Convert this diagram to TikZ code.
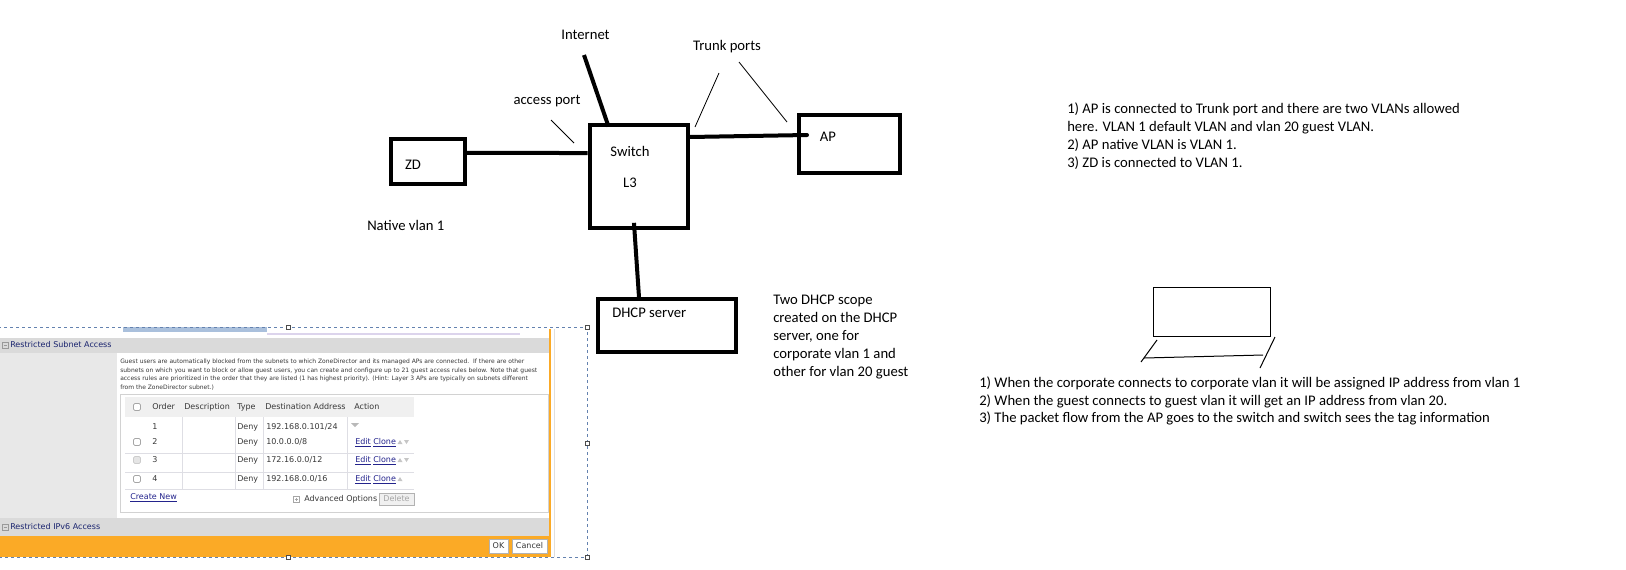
\documentclass[tikz,border=0pt]{standalone}
\usepackage{fontspec}
\setmainfont{Carlito}
\newfontfamily\uifont{DejaVu Sans}
\usetikzlibrary{calc}
\definecolor{dashc}{RGB}{100,130,175}
\definecolor{orng}{RGB}{251,170,38}
\definecolor{band}{RGB}{218,218,218}
\definecolor{leftp}{RGB}{232,232,232}
\definecolor{navy}{RGB}{25,35,110}
\definecolor{linkc}{RGB}{35,35,140}
\definecolor{hdrbg}{RGB}{240,240,240}
\definecolor{gridc}{RGB}{222,222,228}
\definecolor{txtc}{RGB}{55,55,55}
\definecolor{barblue}{RGB}{170,192,220}
\definecolor{lav}{RGB}{220,212,236}
\begin{document}
\begin{tikzpicture}[x=0.75pt,y=-0.75pt,
  box/.style={draw, line width=3pt, inner sep=0pt},
  link/.style={line width=3pt},
  note/.style={line width=0.6pt},
  txt/.style={font=\fontsize{11}{13.5}\selectfont, inner sep=0pt, text height=7.5pt, text depth=2pt},
  ltxt/.style={txt, anchor=west},
  ui/.style={font=\fontsize{6}{7}\selectfont\uifont, inner sep=0pt, anchor=west, text height=4.4pt, text depth=1.2pt, text=txtc},
  tiny/.style={font=\fontsize{4.5}{5}\selectfont\uifont, inner sep=0pt, anchor=west, text height=3.3pt, text depth=0.9pt, text=txtc},
  lnk/.style={ui, text=linkc},
  hdl/.style={fill=white, draw=black!70, line width=0.5pt},
  cbox/.style={draw=gray!70, fill=white, rounded corners=1pt, line width=0.5pt},
  btn/.style={draw=gray!60, fill=hdrbg, line width=0.5pt}
]
\useasboundingbox (0,0) rectangle (1626,569);

% ---------------- network diagram ----------------
\node[box, minimum width=55.5pt, minimum height=33.75pt] (zd) at (428,161.5) {};
\node[box, minimum width=73.5pt, minimum height=77.25pt] (sw) at (638.5,176) {};
\node[box, minimum width=75.75pt, minimum height=43.5pt] (ap) at (849.5,144) {};
\node[box, line width=2.6pt, minimum width=103.5pt, minimum height=39.75pt] (dh) at (667,325.5) {};

\node[txt] (zdt) at (413,166) {ZD};
\node[txt] (swt) at (630,153) {Switch};
\node[txt] (l3t) at (630,184) {L3};
\node[txt] (apt) at (828,138) {AP};
\node[ltxt] (dht) at (612,314) {DHCP server};

\node[txt] (inet) at (585.5,36) {Internet};
\node[txt] (acc) at (547,101) {access port};
\node[txt] (trk) at (727,47) {Trunk ports};
\node[ltxt] (nat) at (367,227) {Native vlan 1};

\coordinate (inetend) at (584,55);
\draw[link] (inetend) -- ([xshift=-22.5pt,yshift=-3pt]sw.north);
\draw[link] ([yshift=6.4pt]zd.east) -- ([yshift=17.25pt]sw.west);
\draw[link, line cap=round] ([yshift=29.25pt]sw.east) -- ([xshift=7.5pt,yshift=6.75pt]ap.west);
\draw[link] ([xshift=-3.4pt,yshift=5pt]sw.south) -- ([xshift=-21pt]dh.north);

\coordinate (ac1) at (551,120); \coordinate (ac2) at (574,143);
\draw[note] (ac1) -- (ac2);
\coordinate (tr1) at (719,73); \coordinate (tr2) at (695,127);
\coordinate (tr3) at (739,62); \coordinate (tr4) at (787,122);
\draw[note] (tr1) -- (tr2);
\draw[note] (tr3) -- (tr4);

% DHCP note
\foreach \t [count=\i from 0] in {Two DHCP scope, created on the DHCP, {server, one for}, corporate vlan 1 and, other for vlan 20 guest}
  \node[ltxt] (dn\i) at (773,301+18*\i) {\t};

% right notes
\node[ltxt] (r1) at (1067,110) {1) AP is connected to Trunk port and there are two VLANs allowed};
\node[ltxt] (r2) at (1067,128) {here. VLAN 1 default VLAN and vlan 20 guest VLAN.};
\node[ltxt] (r3) at (1067,146) {2) AP native VLAN is VLAN 1.};
\node[ltxt] (r4) at (1067,164) {3) ZD is connected to VLAN 1.};

% laptop
\node[draw, line width=0.75pt, minimum width=87.75pt, minimum height=36.75pt, inner sep=0pt] (lap) at (1211.5,311.5) {};
\coordinate (lb1) at (1157,340); \coordinate (lb2) at (1141,362);
\coordinate (lb3) at (1144,358); \coordinate (lb4) at (1263,355);
\coordinate (lb5) at (1275,337); \coordinate (lb6) at (1260,368);
\draw[line width=0.75pt] (lb1) -- (lb2);
\draw[line width=0.75pt] (lb3) -- (lb4);
\draw[line width=0.75pt] (lb5) -- (lb6);

\node[ltxt] (b1) at (979,384) {1) When the corporate connects to corporate vlan it will be assigned IP address from vlan 1};
\node[ltxt] (b2) at (979,401.5) {2) When the guest connects to guest vlan it will get an IP address from vlan 20.};
\node[ltxt] (b3) at (979,419) {3) The packet flow from the AP goes to the switch and switch sees the tag information};

% ---------------- screenshot ----------------
\fill[band] (0,338) rectangle (550,353);
\fill[leftp] (0,353) rectangle (117,518);
\fill[band] (0,518) rectangle (550,536);
\fill[orng] (0,536) rectangle (550,557);
\draw[orng, line width=0.8pt] (550,329) -- (550,557);
\draw[gray!25, line width=0.5pt] (554,329) -- (554,557);
\fill[barblue] (123,327) rectangle (267,332);
\draw[lav, line width=1pt] (267,334) -- (520,334);

% collapse icons and headers
\draw[gray!80, line width=0.4pt] (2,342) rectangle (8,348);
\draw[gray!80, line width=0.4pt] (3.5,345) -- (6.5,345);
\node[ui, text=navy] (h1) at (10,345) {Restricted Subnet Access};
\draw[gray!80, line width=0.4pt] (2,524) rectangle (8,530);
\draw[gray!80, line width=0.4pt] (3.5,527) -- (6.5,527);
\node[ui, text=navy] (h2) at (10,527) {Restricted IPv6 Access};

% description
\node[tiny] (d1) at (120,362) {Guest users are automatically blocked from the subnets to which ZoneDirector and its managed APs are connected.\ \ If there are other};
\node[tiny] (d2) at (120,370.5) {subnets on which you want to block or allow guest users, you can create and configure up to 21 guest access rules below. Note that guest};
\node[tiny] (d3) at (120,379) {access rules are prioritized in the order that they are listed (1 has highest priority). (Hint: Layer 3 APs are typically on subnets different};
\node[tiny] (d4) at (120,388) {from the ZoneDirector subnet.)};

% table container
\draw[gray!35, line width=0.5pt] (120,394) rectangle (548,512);
\fill[hdrbg] (125,397) rectangle (414,417);
\foreach \yy in {453,472,489} \draw[gridc, line width=0.5pt] (125,\yy) -- (414,\yy);
\foreach \xx in {182,235,263,347} \draw[gridc, line width=0.5pt] (\xx,417) -- (\xx,489);

% header row
\draw[cbox] (133.5,403.5) rectangle (140.5,410.5);
\node[ui] (c1) at (152,407) {Order};
\node[ui] (c2) at (184,407) {Description};
\node[ui] (c3) at (237,407) {Type};
\node[ui] (c4) at (265,407) {Destination Address};
\node[ui] (c5) at (354,407) {Action};

% rows
\node[ui] (n1) at (152,427) {1};
\node[ui] (t1) at (237,427) {Deny};
\node[ui] (a1) at (266,427) {192.168.0.101/24};
\fill[gray!55] (351,423) -- (359,423) -- (355,427) -- cycle;

\draw[cbox] (133.5,438.5) rectangle (140.5,445.5);
\node[ui] (n2) at (152,442) {2};
\node[ui] (t2) at (237,442) {Deny};
\node[ui] (a2) at (266,442) {10.0.0.0/8};
\node[lnk] (e2) at (355,442) {\underline{Edit}};
\node[lnk] (k2) at (373,442) {\underline{Clone}};
\fill[gray!45] (397.5,444) -- (402.5,444) -- (400,440) -- cycle;
\fill[gray!45] (404,440) -- (409,440) -- (406.5,444) -- cycle;

\draw[cbox, fill=gray!20, draw=gray!40] (133.5,456.5) rectangle (140.5,463.5);
\node[ui] (n3) at (152,460) {3};
\node[ui] (t3) at (237,460) {Deny};
\node[ui] (a3) at (266,460) {172.16.0.0/12};
\node[lnk] (e3) at (355,460) {\underline{Edit}};
\node[lnk] (k3) at (373,460) {\underline{Clone}};
\fill[gray!45] (397.5,462) -- (402.5,462) -- (400,458) -- cycle;
\fill[gray!45] (404,458) -- (409,458) -- (406.5,462) -- cycle;

\draw[cbox] (133.5,475.5) rectangle (140.5,482.5);
\node[ui] (n4) at (152,479) {4};
\node[ui] (t4) at (237,479) {Deny};
\node[ui] (a4) at (266,479) {192.168.0.0/16};
\node[lnk] (e4) at (355,479) {\underline{Edit}};
\node[lnk] (k4) at (373,479) {\underline{Clone}};
\fill[gray!45] (397.5,481) -- (402.5,481) -- (400,477) -- cycle;

\node[lnk] (cn) at (130,497) {\underline{Create New}};
\draw[gray!70, line width=0.4pt] (293,496) rectangle (299,502);
\draw[gray!70, line width=0.4pt] (294.5,499) -- (297.5,499) (296,497.5) -- (296,500.5);
\node[ui] (adv) at (304,499) {Advanced Options};
\node[btn, minimum width=26.25pt, minimum height=9pt, inner sep=0pt] (del) at (396.5,499) {};
\node[ui, anchor=center, text=gray!70] (delt) at (del) {Delete};

% OK / Cancel
\node[btn, fill=white, minimum width=14.25pt, minimum height=10.5pt, inner sep=0pt] (ok) at (498.5,546) {};
\node[ui, anchor=center] (okt) at (ok) {OK};
\node[btn, fill=white, minimum width=26.25pt, minimum height=10.5pt, inner sep=0pt] (cancel) at (529.5,546) {};
\node[ui, anchor=center] (cat) at (cancel) {Cancel};

% selection frame
\draw[dashc, line width=0.6pt, dash pattern=on 2.25pt off 2.25pt] (-2,327) -- (587,327) -- (587,557) -- (-2,557);
\foreach \p in {(587,327),(587,443),(587,557),(288,327),(288,557)}
  \draw[hdl] \p ++(-2,-2) rectangle ++(4,4);
\end{tikzpicture}
\end{document}
